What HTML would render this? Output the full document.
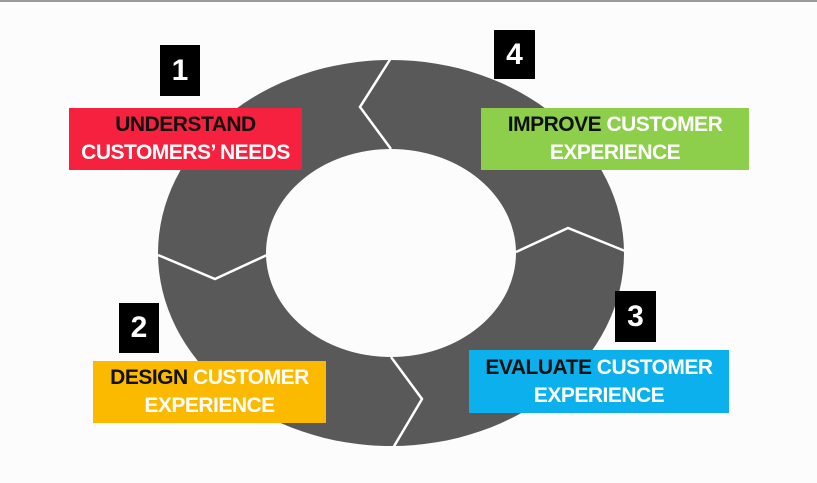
<!DOCTYPE html>
<html><head><meta charset="utf-8"><style>
html,body{margin:0;padding:0;}
body{width:817px;height:483px;background:#fcfcfc;position:relative;overflow:hidden;font-family:"Liberation Sans Narrow","Liberation Sans",sans-serif;}
.top{position:absolute;left:0;top:0;width:817px;height:2px;background:#9a9a9a;}
.num{position:absolute;background:#000;color:#fff;font-weight:bold;font-size:30px;text-align:center;font-family:"Liberation Sans Narrow","Liberation Sans",sans-serif;}
.box{position:absolute;font-weight:bold;font-size:21px;text-align:center;line-height:28px;color:#fff;letter-spacing:-0.5px;display:flex;flex-direction:column;justify-content:center;}
.k{color:#111;}
</style></head><body>
<div class="top"></div>
<svg width="817" height="483" style="position:absolute;left:0;top:0">
<path fill-rule="evenodd" fill="#595959" d="M158,253a233,193 0 1,0 466,0a233,193 0 1,0 -466,0Z M266,253a125,104 0 1,0 250,0a125,104 0 1,0 -250,0Z"/>
<g stroke="#fff" stroke-width="2.5" fill="none">
<polyline points="391,58 360,107 391,149"/>
<polyline points="516,252 568,228 625,251"/>
<polyline points="391,357 422,399 393,448"/>
<polyline points="158,255 215,279 267,255"/>
</g>
</svg>
<div class="num" style="left:160px;top:45px;width:40px;height:51px;line-height:51px;">1</div>
<div class="box" style="left:69px;top:108px;width:233px;height:62px;background:#f5213f;"><div class="k">UNDERSTAND</div><div>CUSTOMERS’ NEEDS</div></div>
<div class="num" style="left:494px;top:30px;width:41px;height:49px;line-height:49px;">4</div>
<div class="box" style="left:481px;top:108px;width:268px;height:62px;background:#8dcf4a;"><div><span class="k">IMPROVE</span> CUSTOMER</div><div>EXPERIENCE</div></div>
<div class="num" style="left:119px;top:303px;width:40px;height:50px;line-height:50px;">2</div>
<div class="box" style="left:93px;top:361px;width:233px;height:62px;background:#fbb900;"><div><span class="k">DESIGN</span> CUSTOMER</div><div>EXPERIENCE</div></div>
<div class="num" style="left:615px;top:291px;width:41px;height:51px;line-height:51px;">3</div>
<div class="box" style="left:469px;top:350px;width:260px;height:63px;background:#0cb0ec;"><div><span class="k">EVALUATE</span> CUSTOMER</div><div>EXPERIENCE</div></div>
</body></html>
